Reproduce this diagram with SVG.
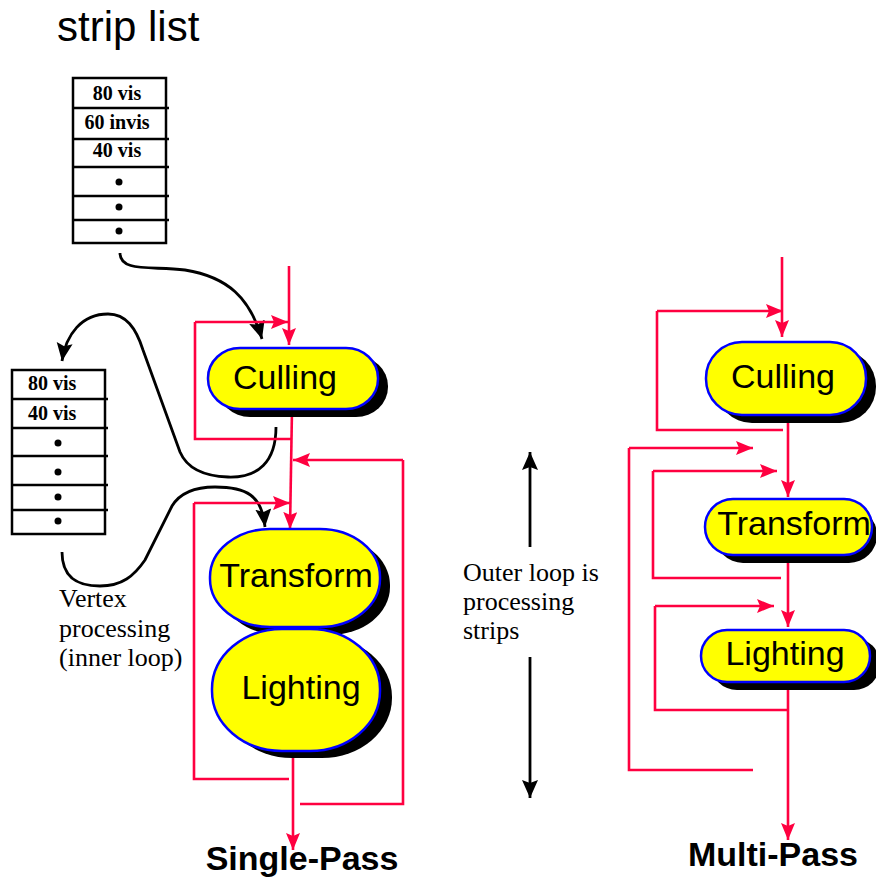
<svg xmlns="http://www.w3.org/2000/svg" width="876" height="878" viewBox="0 0 876 878">
<defs>
<style>
.red{fill:none;stroke:#ff0040;stroke-width:2.6}
.blk{fill:none;stroke:#000;stroke-width:2.8}
.tbl{fill:#fff;stroke:#000;stroke-width:2.5}
.row{stroke:#000;stroke-width:2.5}
.pill{fill:#ffff00;stroke:#0000ff;stroke-width:2.5}
.shadow{fill:#000}
.lbl{font-family:"Liberation Sans",Arial,sans-serif;font-size:34px;fill:#000;text-anchor:middle}
.cell{font-family:"Liberation Serif","Times New Roman",serif;font-size:20px;font-weight:bold;fill:#000}
.note{font-family:"Liberation Serif","Times New Roman",serif;font-size:26px;fill:#000}
.title{font-family:"Liberation Sans",Arial,sans-serif;font-size:34px;font-weight:bold;fill:#000;text-anchor:middle}
</style>
<marker id="ra" markerUnits="userSpaceOnUse" markerWidth="18" markerHeight="16" refX="17" refY="7" orient="auto"><path d="M0,0 L17,7 L0,14 L3,7 z" fill="#ff0040"/></marker>
<marker id="ba" markerUnits="userSpaceOnUse" markerWidth="19" markerHeight="17" refX="18" refY="8" orient="auto"><path d="M0,0 L18,8 L0,16 L3,8 z" fill="#000"/></marker>
</defs>
<rect width="876" height="878" fill="#fff"/>

<text x="57" y="41" font-family="Liberation Sans,Arial,sans-serif" font-size="42" fill="#000">strip list</text>

<g id="strip-list">
<rect class="tbl" x="73" y="78" width="93" height="165"/>
<line class="row" x1="72" y1="108" x2="169" y2="108"/>
<line class="row" x1="72" y1="139" x2="169" y2="139"/>
<line class="row" x1="72" y1="167" x2="169" y2="167"/>
<line class="row" x1="72" y1="196" x2="169" y2="196"/>
<line class="row" x1="72" y1="220" x2="169" y2="220"/>
<text class="cell" x="117" y="100" text-anchor="middle">80 vis</text>
<text class="cell" x="117" y="129" text-anchor="middle">60 invis</text>
<text class="cell" x="117" y="157" text-anchor="middle">40 vis</text>
<circle cx="119" cy="182" r="3.5"/>
<circle cx="119" cy="207" r="3.5"/>
<circle cx="119" cy="231" r="3.5"/>
</g>

<g id="vertex-list">
<rect class="tbl" x="12" y="370" width="93" height="164"/>
<line class="row" x1="11" y1="399" x2="108" y2="399"/>
<line class="row" x1="11" y1="428" x2="108" y2="428"/>
<line class="row" x1="11" y1="456" x2="108" y2="456"/>
<line class="row" x1="11" y1="485" x2="108" y2="485"/>
<line class="row" x1="11" y1="510" x2="108" y2="510"/>
<text class="cell" x="28" y="390">80 vis</text>
<text class="cell" x="28" y="420">40 vis</text>
<circle cx="58" cy="443" r="3.5"/>
<circle cx="58" cy="472" r="3.5"/>
<circle cx="58" cy="497" r="3.5"/>
<circle cx="58" cy="521" r="3.5"/>
</g>

<g id="connectors">
<path class="blk" d="M120,253 C120,272 150,266 185,270 C228,277 250,298 262,339" marker-end="url(#ba)"/>
<path class="blk" d="M276,427 C276,462 258,478 228,477 C200,476 186,466 180,452 L143,350 C136,328 126,314 108,314 C82,314 66,334 62,361" marker-end="url(#ba)"/>
<path class="blk" d="M62,552 C62,578 78,586 100,586 C122,586 134,576 145,560 L172,506 C180,493 195,487 215,487 C246,487 262,495 265,527" marker-end="url(#ba)"/>

<path class="red" d="M289,266 L289,345" marker-end="url(#ra)"/>
<path class="red" d="M195,322 L288,322" marker-end="url(#ra)"/>
<path class="red" d="M195,322 L195,439 L292,439"/>
<path class="red" d="M292,409 L290,529" marker-end="url(#ra)"/>
<path class="red" d="M403,460 L293,460" marker-end="url(#ra)"/>
<path class="red" d="M403,460 L403,804 L300,804"/>
<path class="red" d="M194,503 L290,503" marker-end="url(#ra)"/>
<path class="red" d="M194,503 L194,779 L289,779"/>
<path class="red" d="M293,757 L293,850" marker-end="url(#ra)"/>

<path class="red" d="M782,257 L782,337" marker-end="url(#ra)"/>
<path class="red" d="M657,311 L783,311" marker-end="url(#ra)"/>
<path class="red" d="M657,311 L657,430 L783,430"/>
<path class="red" d="M788,420 L788,497" marker-end="url(#ra)"/>
<path class="red" d="M629,448 L753,448" marker-end="url(#ra)"/>
<path class="red" d="M629,448 L629,770 L753,770"/>
<path class="red" d="M653,471 L777,471" marker-end="url(#ra)"/>
<path class="red" d="M653,471 L653,578 L781,578"/>
<path class="red" d="M788,560 L788,627" marker-end="url(#ra)"/>
<path class="red" d="M655,606 L774,606" marker-end="url(#ra)"/>
<path class="red" d="M655,606 L655,710 L788,710"/>
<path class="red" d="M788,688 L788,840" marker-end="url(#ra)"/>

<path class="blk" d="M530,547 L530,452" marker-end="url(#ba)"/>
<path class="blk" d="M530,657 L530,798" marker-end="url(#ba)"/>
</g>

<g id="culling-left">
<rect class="shadow" x="218" y="356" width="170" height="61" rx="32" ry="30"/>
<rect class="pill" x="208" y="348" width="170" height="61" rx="32" ry="30"/>
<text class="lbl" x="285" y="389">Culling</text>
</g>
<g id="transform-left">
<rect class="shadow" x="220" y="537" width="170" height="98" rx="60" ry="48"/>
<rect class="pill" x="210" y="529" width="170" height="98" rx="60" ry="48"/>
<text class="lbl" x="296" y="587">Transform</text>
</g>
<g id="lighting-left">
<rect class="shadow" x="222" y="637" width="170" height="121" rx="70" ry="60"/>
<rect class="pill" x="212" y="629" width="168" height="122" rx="70" ry="60"/>
<text class="lbl" x="301" y="699">Lighting</text>
</g>

<g id="culling-right">
<rect class="shadow" x="716" y="350" width="160" height="73" rx="36" ry="36"/>
<rect class="pill" x="706" y="342" width="160" height="73" rx="36" ry="36"/>
<text class="lbl" x="783" y="388">Culling</text>
</g>
<g id="transform-right">
<rect class="shadow" x="715" y="507" width="162" height="56" rx="28" ry="28"/>
<rect class="pill" x="705" y="499" width="167" height="56" rx="28" ry="28"/>
<text class="lbl" x="794" y="535">Transform</text>
</g>
<g id="lighting-right">
<rect class="shadow" x="711" y="638" width="169" height="52" rx="26" ry="26"/>
<rect class="pill" x="701" y="630" width="169" height="52" rx="26" ry="26"/>
<text class="lbl" x="785" y="665">Lighting</text>
</g>

<g id="notes">
<text class="note" x="59" y="607">Vertex</text>
<text class="note" x="59" y="637">processing</text>
<text class="note" x="59" y="666">(inner loop)</text>
<text class="note" x="463" y="581">Outer loop is</text>
<text class="note" x="463" y="610">processing</text>
<text class="note" x="463" y="639">strips</text>
</g>

<text class="title" x="302" y="870">Single-Pass</text>
<text class="title" x="773" y="866">Multi-Pass</text>
</svg>
